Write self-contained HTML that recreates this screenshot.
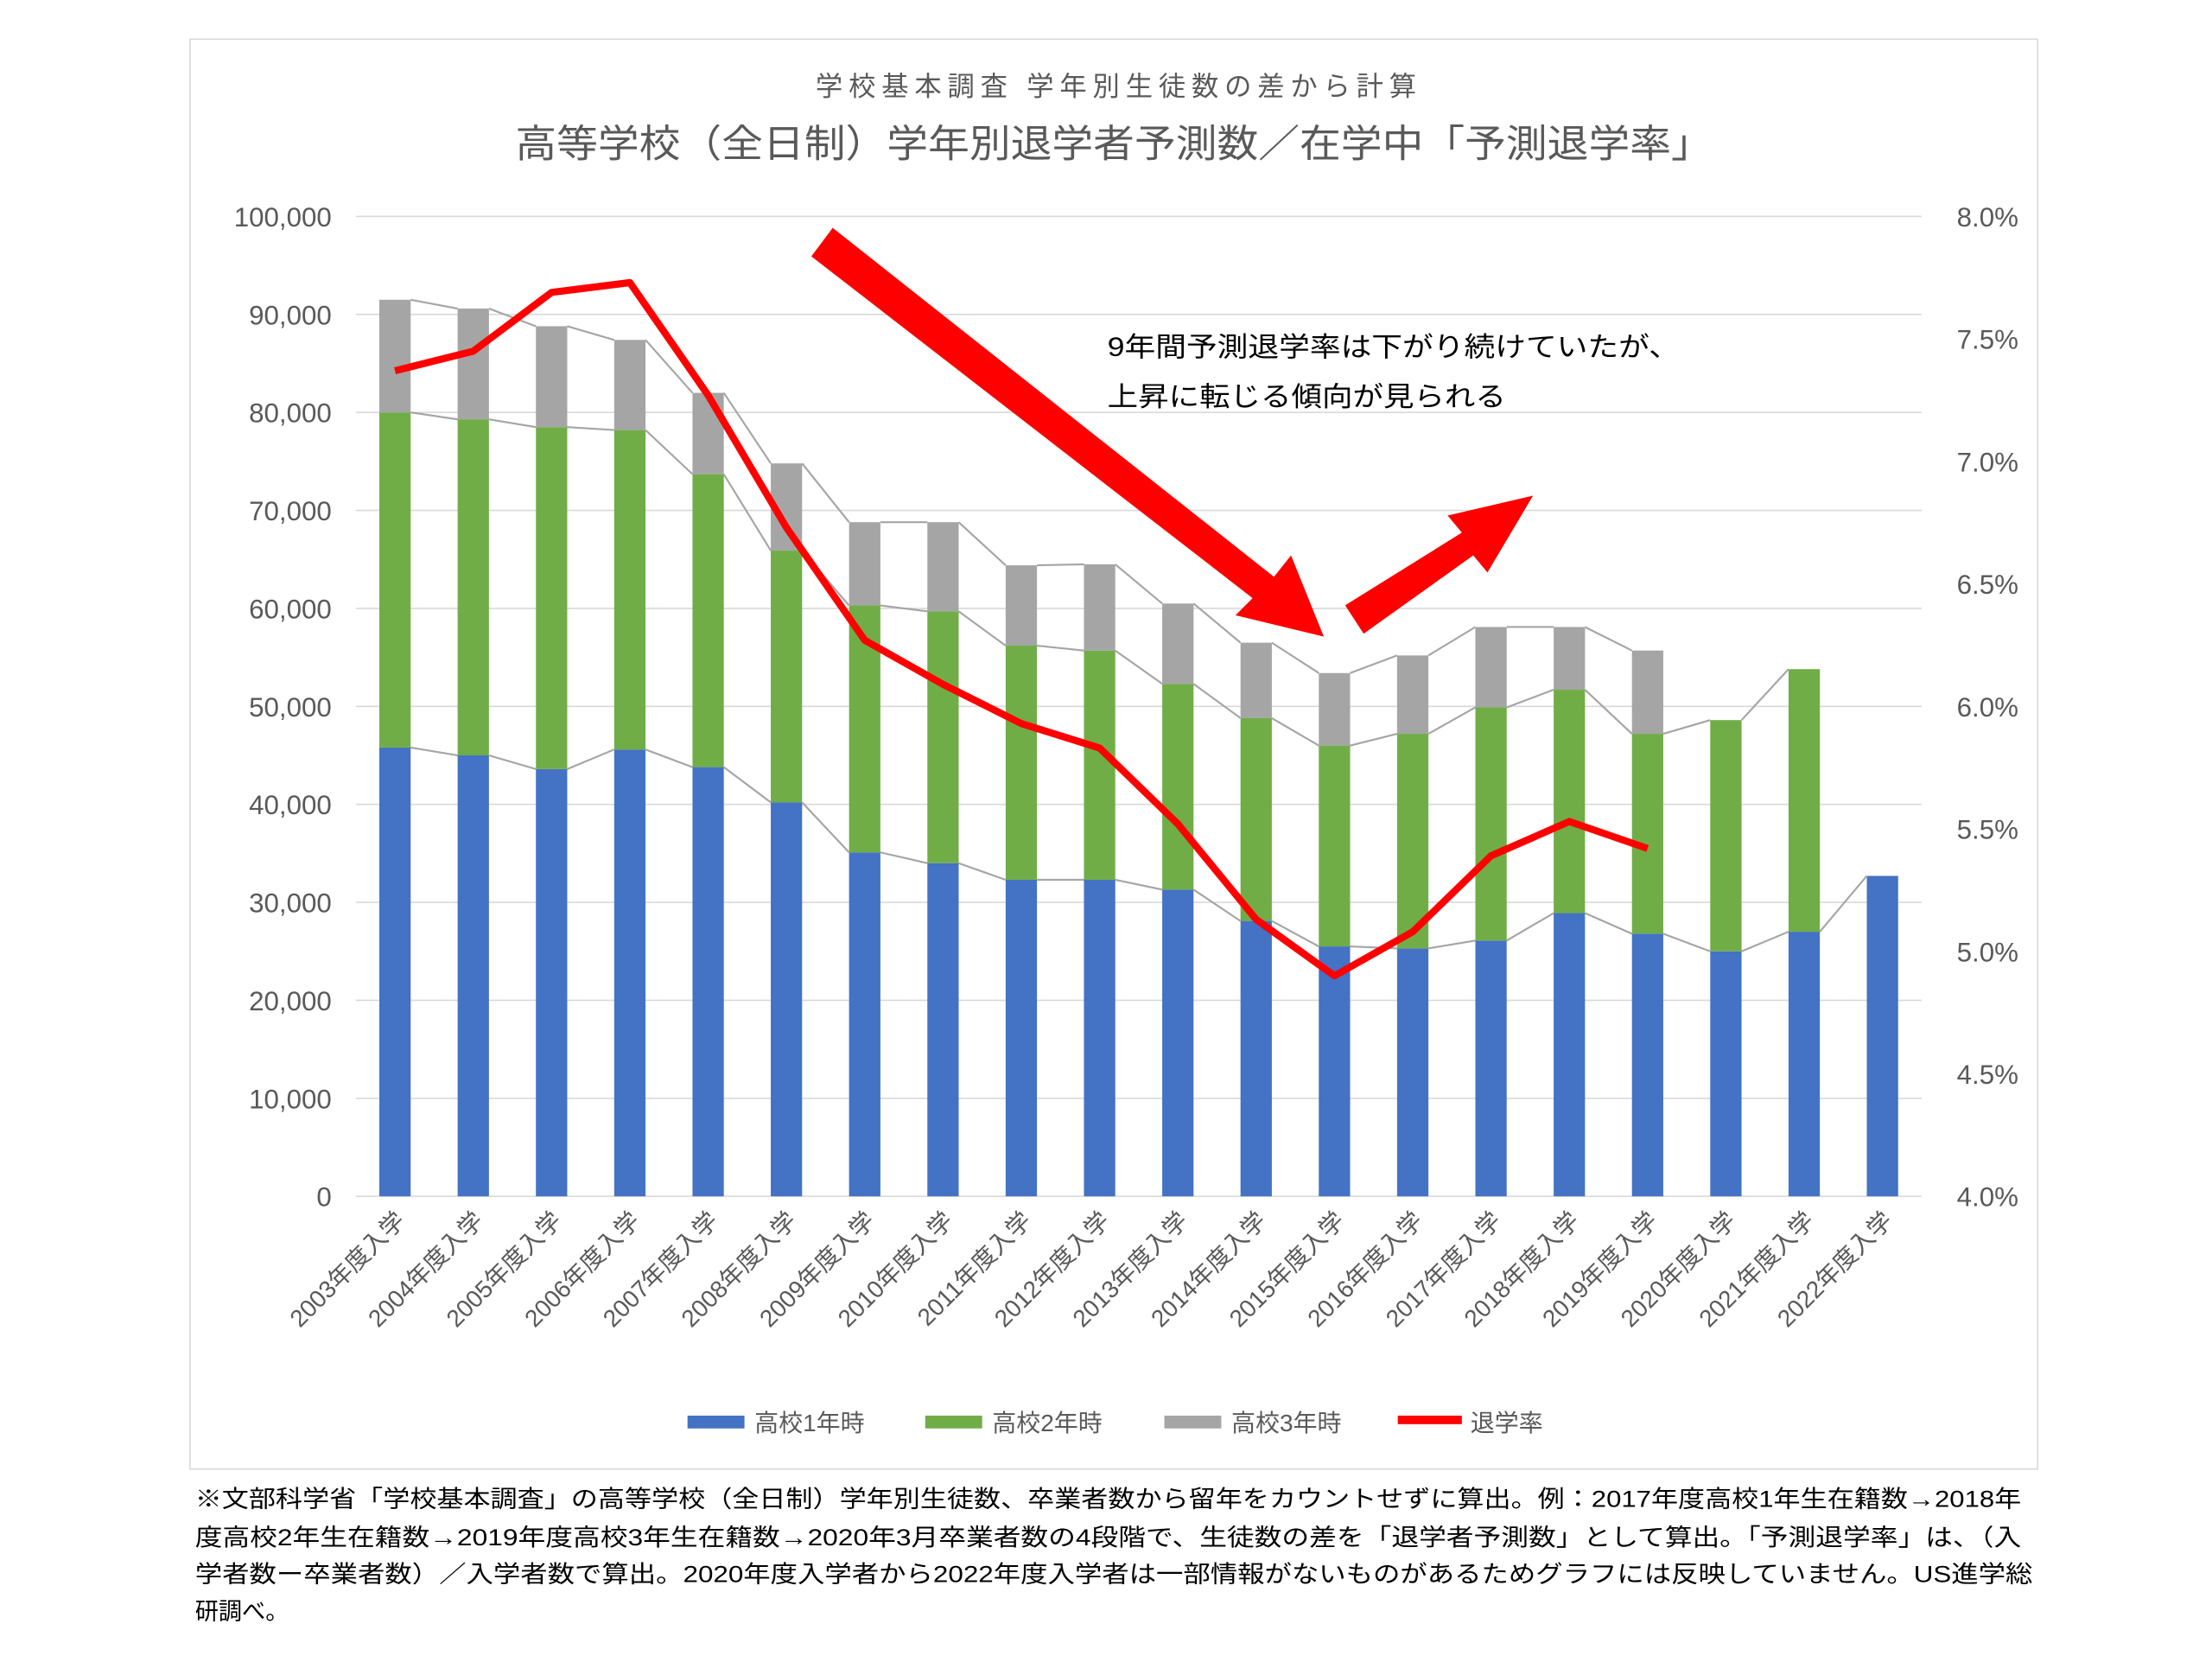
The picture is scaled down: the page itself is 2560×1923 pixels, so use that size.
<!DOCTYPE html>
<html><head><meta charset="utf-8"><style>
html,body{margin:0;padding:0;background:#fff}
svg{display:block}
text{font-family:"Liberation Sans","Noto Sans CJK JP",sans-serif}
</style></head><body>
<svg id="chart" width="2560" height="1923" viewBox="0 0 1554 1167" preserveAspectRatio="none" xmlns="http://www.w3.org/2000/svg">
<rect x="0" y="0" width="1554" height="1167" fill="#fff"/>
<rect x="133.5" y="27.5" width="1298" height="1004" fill="#fff" stroke="#d9d9d9" stroke-width="1"/>
<text x="573" y="67" textLength="422" lengthAdjust="spacing" font-size="19" fill="#595959">学校基本調査 学年別生徒数の差から計算</text>
<text x="362" y="110" textLength="841" lengthAdjust="spacingAndGlyphs" font-size="27" fill="#595959">高等学校（全日制）学年別退学者予測数／在学中「予測退学率」</text>
<g id="grid"></g>
<g id="bars"></g>
<g id="conn"></g>
<g id="arrows">
<polygon fill="#ff0000" points="570,180 585,160 895,405 907,390 930,447 868,432 880,420"/>
<polygon fill="#ff0000" points="945,425 958,445 1035,390 1045,402 1077,348 1017,362 1027,374"/>
</g>
<g id="rate"></g>
<g id="axes"></g>
<text x="778" y="250" textLength="402" lengthAdjust="spacingAndGlyphs" font-size="19" fill="#000">9年間予測退学率は下がり続けていたが、</text>
<text x="778" y="285" textLength="280" lengthAdjust="spacingAndGlyphs" font-size="19" fill="#000">上昇に転じる傾向が見られる</text>
<g id="legend">
<rect x="483" y="994" width="40" height="9" fill="#4472c4"/>
<text x="530" y="1005" font-size="17" fill="#595959">高校1年時</text>
<rect x="650" y="994" width="40" height="9" fill="#70ad47"/>
<text x="697" y="1005" font-size="17" fill="#595959">高校2年時</text>
<rect x="818" y="994" width="40" height="9" fill="#a5a5a5"/>
<text x="865" y="1005" font-size="17" fill="#595959">高校3年時</text>
<rect x="982" y="994" width="45" height="6" fill="#ff0000"/>
<text x="1033" y="1005" font-size="17" fill="#595959">退学率</text>
</g>
<g font-size="16.5" fill="#000">
<text x="137" y="1058" textLength="1283" lengthAdjust="spacingAndGlyphs">※文部科学省「学校基本調査」の高等学校（全日制）学年別生徒数、卒業者数から留年をカウントせずに算出。例：2017年度高校1年生在籍数→2018年</text>
<text x="137" y="1085" textLength="1283" lengthAdjust="spacingAndGlyphs">度高校2年生在籍数→2019年度高校3年生在籍数→2020年3月卒業者数の4段階で、生徒数の差を「退学者予測数」として算出。「予測退学率」は、（入</text>
<text x="137" y="1111" textLength="1291" lengthAdjust="spacingAndGlyphs">学者数ー卒業者数）／入学者数で算出。2020年度入学者から2022年度入学者は一部情報がないものがあるためグラフには反映していません。US進学総</text>
<text x="137" y="1137">研調べ。</text>
</g>
</svg>
<script>
const categories=["2003年度入学","2004年度入学","2005年度入学","2006年度入学","2007年度入学","2008年度入学","2009年度入学","2010年度入学","2011年度入学","2012年度入学","2013年度入学","2014年度入学","2015年度入学","2016年度入学","2017年度入学","2018年度入学","2019年度入学","2020年度入学","2021年度入学","2022年度入学"];
const grade1=[45800,45000,43600,45600,43800,40200,35100,34000,32300,32300,31300,28100,25500,25300,26100,28900,26800,25000,27000,32700];
const grade2=[34200,34300,34900,32600,29900,25700,25200,25700,23900,23400,21000,20700,20500,21900,23800,22800,20400,23600,26800,null];
const grade3=[11500,11300,10300,9200,8300,8900,8500,9100,8200,8800,8200,7700,7400,8000,8200,6400,8500,null,null,null];
const rate=[7.37,7.45,7.69,7.73,7.27,6.73,6.27,6.09,5.93,5.83,5.52,5.13,4.90,5.08,5.39,5.53,5.42];
const leftTicks=[0,10000,20000,30000,40000,50000,60000,70000,80000,90000,100000];
const rightTicks=[4.0,4.5,5.0,5.5,6.0,6.5,7.0,7.5,8.0];
const NS="http://www.w3.org/2000/svg";
const X0=250,X1=1350,Y0=840,Y1=152,BW=22;
const yL=v=>Y0-(v/100000)*(Y0-Y1);
const yR=v=>Y0-((v-4)/4)*(Y0-Y1);
const xC=i=>X0+(i+0.5)*(X1-X0)/categories.length;
function mk(tag,attrs,parent){const e=document.createElementNS(NS,tag);for(const k in attrs)e.setAttribute(k,attrs[k]);document.getElementById(parent).appendChild(e);return e;}
leftTicks.forEach((t,i)=>{
 const l=mk('line',{x1:X0,x2:X1,y1:yL(t),y2:yL(t),stroke:'#d9d9d9','stroke-width':1},'grid');
 
 
 const tx=mk('text',{x:233,y:yL(t)+7,'text-anchor':'end','font-size':19,fill:'#595959'},'axes');
 tx.textContent=t.toLocaleString('en-US');
 
 
});
rightTicks.forEach(t=>{
 const tx=mk('text',{x:1418,y:yR(t)+7,'text-anchor':'end','font-size':19,fill:'#595959'},'axes');
 tx.textContent=t.toFixed(1)+'%';
 
 
});
const cols=['#4472c4','#70ad47','#a5a5a5'];
const tops=[[],[],[]];
categories.forEach((c,i)=>{
 let base=0;
 [grade1,grade2,grade3].forEach((s,k)=>{
  const v=s[i];
  if(v==null){tops[k][i]=null;return;}
  const r=mk('rect',{x:xC(i)-BW/2,y:yL(base+v),width:BW,height:yL(base)-yL(base+v),fill:cols[k]},'bars');
  
  
  base+=v;tops[k][i]=base;
 });
 const tx=mk('text',{x:xC(i)+8,y:858,'text-anchor':'end','font-size':17,fill:'#595959',transform:`rotate(-45 ${xC(i)+8} 858)`},'axes');
 tx.textContent=c;
 
 
});
tops.forEach(arr=>{
 for(let i=0;i<arr.length-1;i++){
  if(arr[i]==null)continue;
  const a=arr[i],b=arr[i+1]!=null?arr[i+1]:null;
  if(b==null)continue;
  const l=mk('line',{x1:xC(i)+BW/2,y1:yL(a),x2:xC(i+1)-BW/2,y2:yL(b),stroke:'#a5a5a5','stroke-width':1.3},'conn');
  
  
 }
});
const pts=rate.map((v,i)=>xC(i)+','+yR(v)).join(' ');
const pl=mk('polyline',{points:pts,fill:'none',stroke:'#ff0000','stroke-width':5,'stroke-linejoin':'round'},'rate');


</script>
</body></html>
